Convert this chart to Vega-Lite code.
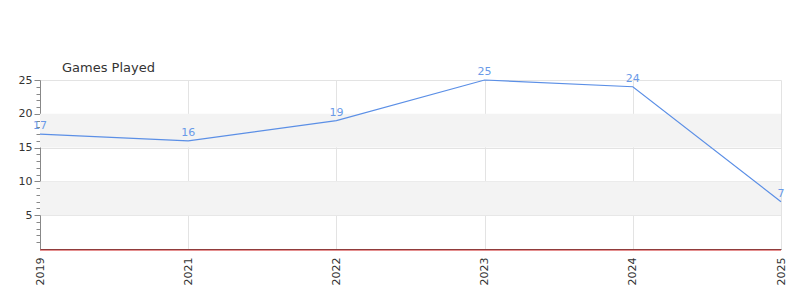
{
  "$schema": "https://vega.github.io/schema/vega-lite/v6.json",
  "autosize": "none",
  "width": 741,
  "height": 169,
  "padding": {"left": 40, "top": 80, "right": 19, "bottom": 51},
  "background": "white",
  "title": {"text": "Games Played", "anchor": "start", "frame": "group", "dx": 22, "dy": 16, "offset": 7, "fontSize": 13, "fontWeight": "normal", "color": "#333333", "font": "DejaVu Sans"},
  "config": {"view": {"stroke": null}, "axis": {"labelFont": "DejaVu Sans", "labelFontSize": 11, "labelColor": "#333333"}},
  "datasets": {
    "games": [
      {"year": "2019", "games": 17},
      {"year": "2021", "games": 16},
      {"year": "2022", "games": 19},
      {"year": "2023", "games": 25},
      {"year": "2024", "games": 24},
      {"year": "2025", "games": 7}
    ],
    "bands": [
      {"lo": 5, "hi": 10},
      {"lo": 15, "hi": 20}
    ],
    "base": [{"zero": 0}]
  },
  "layer": [
    {
      "data": {"name": "bands"},
      "mark": {"type": "rect", "color": "#f3f3f3"},
      "encoding": {
        "y": {"field": "lo", "type": "quantitative", "scale": {"domain": [0, 25], "nice": false},
          "axis": {"title": null, "values": [1,2,3,4,5,6,7,8,9,10,11,12,13,14,15,16,17,18,19,20,21,22,23,24,25],
            "tickCount": 50, "format": "d",
            "labelExpr": "datum.value % 5 === 0 ? datum.label : ''",
            "labelOverlap": false, "labelFlush": false,
            "grid": true, "gridColor": "#e3e3e3",
            "gridOpacity": {"condition": {"test": "datum.value % 5 === 0", "value": 1}, "value": 0},
            "tickSize": {"condition": {"test": "datum.value % 5 === 0", "value": 6}, "value": 4},
            "domainColor": "#888888", "tickColor": "#888888", "labelPadding": 2}},
        "y2": {"field": "hi"}
      }
    },
    {
      "data": {"name": "games"},
      "mark": {"type": "line", "color": "#5b8fe6", "strokeWidth": 1.2},
      "encoding": {
        "x": {"field": "year", "type": "ordinal", "scale": {"type": "point", "padding": 0},
          "axis": {"title": null, "labelAngle": -90, "labelAlign": "right", "labelBaseline": "middle", "ticks": false, "labelPadding": 8, "domain": true, "domainColor": "#555555", "domainWidth": 1, "grid": true, "gridColor": "#e3e3e3"}},
        "y": {"field": "games", "type": "quantitative"}
      }
    },
    {
      "data": {"name": "base"},
      "mark": {"type": "rule", "color": "#cc2222", "strokeWidth": 1, "yOffset": 1},
      "encoding": {"y": {"field": "zero", "type": "quantitative"}}
    },
    {
      "data": {"name": "games"},
      "mark": {"type": "text", "color": "#6a9ae8", "fontSize": 11, "dy": -8, "font": "DejaVu Sans"},
      "encoding": {
        "x": {"field": "year", "type": "ordinal"},
        "y": {"field": "games", "type": "quantitative"},
        "text": {"field": "games", "type": "quantitative"}
      }
    }
  ]
}
